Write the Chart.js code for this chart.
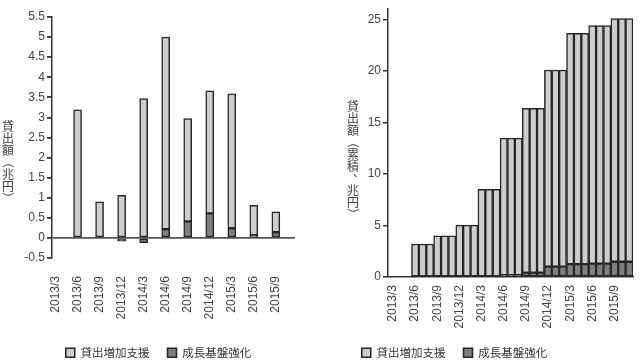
<!DOCTYPE html>
<html>
<head>
<meta charset="utf-8">
<script src="https://cdn.jsdelivr.net/npm/chart.js@4"></script>
<style>
  body { margin: 0; background: #fff; }
  #wrap { position: relative; width: 640px; height: 361px; overflow: hidden; }
  #wrap canvas { position: absolute; top: 0; }
  .ytitle {
    position: absolute;
    display: flex;
    flex-direction: column;
    align-items: center;
    width: 12px;
    font: 12px "Noto Sans CJK JP", sans-serif;
    line-height: 12px;
    color: #444;
  }
  .ytitle span { display: block; height: 12px; }
  .ytitle .rot { transform: rotate(90deg); }
  .ytitle .comma { transform: translate(6px, -6px); }
</style>
</head>
<body>
<div id="wrap">
  <canvas id="flow" width="317" height="361" style="left:0"></canvas>
  <canvas id="cum" width="373" height="361" style="left:268px"></canvas>
  <div class="ytitle" id="flowTitle" style="left:2px;top:120px"></div>
  <div class="ytitle" id="cumTitle" style="left:347px;top:100px"></div>
</div>
<script>
// quarterly flows (left chart)
const quarters = ["2013/3", "2013/6", "2013/9", "2013/12", "2014/3", "2014/6",
  "2014/9", "2014/12", "2015/3", "2015/6", "2015/9"];
const supportFlow = [0, 3.19, 0.90, 1.06, 3.47, 4.78, 2.56, 3.05, 3.35, 0.74, 0.51];
const growthFlow = [0, 0, 0, -0.08, -0.12, 0.22, 0.41, 0.61, 0.24, 0.07, 0.14];

// monthly cumulative (right chart)
const months = ["2013/3", "2013/4", "2013/5", "2013/6", "2013/7", "2013/8", "2013/9",
  "2013/10", "2013/11", "2013/12", "2014/1", "2014/2", "2014/3", "2014/4", "2014/5",
  "2014/6", "2014/7", "2014/8", "2014/9", "2014/10", "2014/11", "2014/12", "2015/1",
  "2015/2", "2015/3", "2015/4", "2015/5", "2015/6", "2015/7", "2015/8", "2015/9",
  "2015/10", "2015/11"];
const supportCum = [0, 0, 0, 3.2, 3.2, 3.2, 4.0, 4.0, 4.0, 5.03, 5.03, 5.03,
  8.52, 8.52, 8.52, 13.32, 13.32, 13.32, 15.95, 15.95, 15.95, 19.1, 19.1, 19.1,
  22.4, 22.4, 22.4, 23.12, 23.12, 23.12, 23.62, 23.62, 23.62];
const growthCum = [0, 0, 0, 0, 0, 0, 0, 0, 0, 0, 0, 0, 0, 0, 0,
  0.17, 0.17, 0.17, 0.42, 0.42, 0.42, 1.0, 1.0, 1.0,
  1.25, 1.25, 1.25, 1.3, 1.3, 1.3, 1.48, 1.48, 1.48];
const cumTicks = [0, 5, 10, 15, 20, 25];

const flowTitle = "貸出額（兆円）";
const cumTitle = "貸出額（累積、兆円）";

const LIGHT = "#cdcdcd";
const DARK = "#7f7f7f";
const EDGE = "#262626";
const tickFont = { family: '"Liberation Sans", Arial, sans-serif', size: 12 };
const legendFont = { family: '"Noto Sans CJK JP", sans-serif', size: 11.5 };

// stacked upright characters, like the vertical axis titles of the original
function verticalTitle(el, text) {
  for (const ch of text) {
    const s = document.createElement("span");
    s.textContent = ch;
    if (ch === "（" || ch === "）") s.className = "rot";
    if (ch === "、") s.className = "comma";
    el.appendChild(s);
  }
}
verticalTitle(document.getElementById("flowTitle"), flowTitle);
verticalTitle(document.getElementById("cumTitle"), cumTitle);

function legendOpts() {
  return {
    position: "bottom",
    reverse: true,
    maxHeight: 32,
    labels: { boxWidth: 9, boxHeight: 9, padding: 18, color: "#333", font: legendFont },
  };
}

// empty right-hand axis: keeps the plot narrow without moving the legend
function spacer(w) {
  return {
    position: "right",
    grid: { display: false },
    border: { display: false },
    ticks: { display: false },
    afterFit: (s) => { s.width = w; },
  };
}

function barSet(label, values, color, extra) {
  return Object.assign({
    label,
    data: values.map((v, i) => ({ x: i, y: v === 0 ? null : v })),
    backgroundColor: color,
    borderColor: EDGE,
    borderWidth: 1.5,
    borderSkipped: false,
  }, extra);
}

// left: quarterly flows
new Chart(document.getElementById("flow"), {
  type: "bar",
  data: {
    datasets: [
      barSet("成長基盤強化", growthFlow, DARK, { barThickness: 8 }),
      barSet("貸出増加支援", supportFlow, LIGHT, { barThickness: 8 }),
    ],
  },
  options: {
    responsive: false,
    animation: false,
    layout: { padding: { top: 17, right: 0, left: 0, bottom: 0 } },
    plugins: { legend: legendOpts(), tooltip: { enabled: false } },
    scales: {
      x: {
        type: "linear",
        stacked: true,
        offset: false,
        min: -0.16,
        max: 10.87,
        afterBuildTicks: (s) => { s.ticks = quarters.map((q, i) => ({ value: i })); },
        afterFit: (s) => { s.height = 71; },
        ticks: {
          callback: (v) => quarters[v],
          autoSkip: false,
          minRotation: 90,
          maxRotation: 90,
          padding: 18,
          color: "#444",
          font: tickFont,
        },
        grid: { display: false, drawTicks: false },
        border: { display: false },
      },
      y: {
        stacked: true,
        min: -0.5,
        max: 5.5,
        afterFit: (s) => { s.width = 52; },
        ticks: {
          stepSize: 0.5,
          padding: 2,
          color: "#444",
          font: tickFont,
          callback: (v) => String(Math.round(v * 10) / 10),
        },
        grid: {
          color: (c) => (c.tick && c.tick.value === 0 ? "#555" : "rgba(0,0,0,0)"),
          lineWidth: 1.8,
          tickColor: "#333",
          tickLength: 5,
        },
        border: { color: "#333", width: 1.5 },
      },
      pad: spacer(22),
    },
  },
});

// right: cumulative
new Chart(document.getElementById("cum"), {
  type: "bar",
  data: {
    datasets: [
      barSet("成長基盤強化", growthCum, DARK, { barPercentage: 1, categoryPercentage: 1 }),
      barSet("貸出増加支援", supportCum, LIGHT, { barPercentage: 1, categoryPercentage: 1 }),
    ],
  },
  options: {
    responsive: false,
    animation: false,
    layout: { padding: { top: 6, right: 0, left: 0, bottom: 0 } },
    plugins: { legend: legendOpts(), tooltip: { enabled: false } },
    scales: {
      x: {
        type: "linear",
        stacked: true,
        offset: false,
        min: -0.68,
        max: 32.5,
        afterBuildTicks: (s) => { s.ticks = quarters.map((q) => ({ value: months.indexOf(q) })); },
        afterFit: (s) => { s.height = 52; },
        ticks: {
          callback: (v) => months[v],
          autoSkip: false,
          minRotation: 90,
          maxRotation: 90,
          padding: 8,
          color: "#444",
          font: tickFont,
        },
        grid: { display: false, drawTicks: false },
        border: { display: true, color: "#333", width: 1.5 },
      },
      y: {
        stacked: true,
        min: 0,
        max: 26,
        afterFit: (s) => { s.width = 120; },
        afterBuildTicks: (s) => { s.ticks = cumTicks.map((v) => ({ value: v })); },
        ticks: { padding: 2, color: "#444", font: tickFont },
        grid: { drawOnChartArea: false, tickColor: "#333", tickLength: 5, lineWidth: 1.5 },
        border: { color: "#333", width: 1.5 },
      },
      pad: spacer(8),
    },
  },
});
</script>
</body>
</html>
